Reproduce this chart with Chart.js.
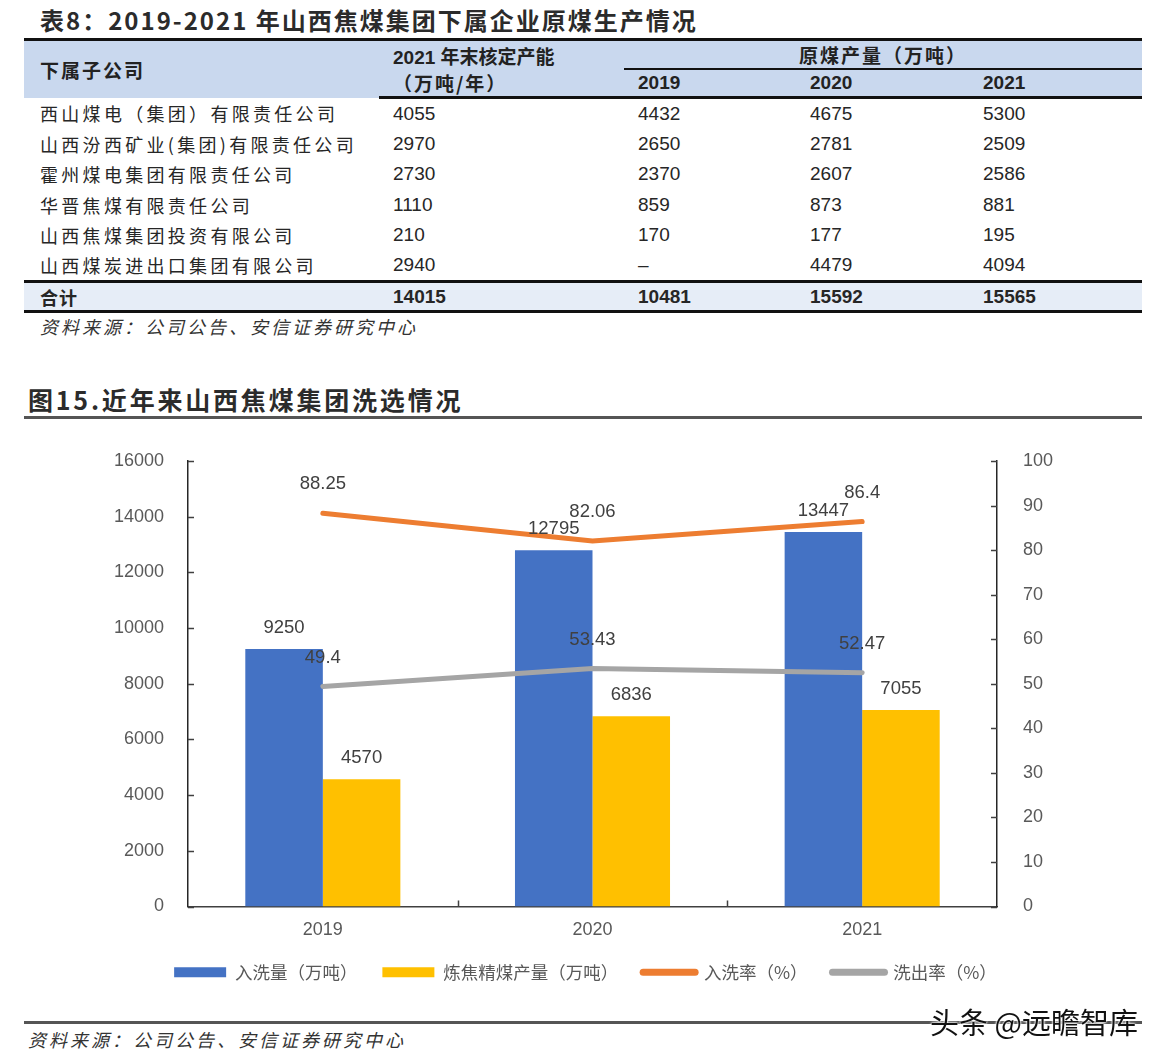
<!DOCTYPE html>
<html>
<head>
<meta charset="utf-8">
<script src="https://cdn.jsdelivr.net/npm/chart.js@4.4.1/dist/chart.umd.min.js"></script>
<style>
  body { margin: 0; background: #fff; width: 1171px; height: 1061px; position: relative; overflow: hidden; font-family: "Noto Sans CJK SC", sans-serif; color: #222; }
  .title { position: absolute; font-weight: bold; color: #2b2b2b; white-space: nowrap; }
  #t1 { left: 40px; top: 2px; font-size: 24px; letter-spacing: 2px; }
  #t2 { left: 28px; top: 381px; font-size: 25px; letter-spacing: 2.8px; }
  table { position: absolute; left: 24px; top: 38px; width: 1118px; border-collapse: collapse; table-layout: fixed; }
  td, th { padding: 0 0 0 14px; text-align: left; white-space: nowrap; font-family: "Liberation Sans", "Noto Sans CJK SC", sans-serif; font-size: 19px; }
  thead th { background: #c9d8ee; font-weight: bold; color: #222; }
  thead tr:first-child th { border-top: 3px solid #111; height: 24px; }
  thead tr:last-child th { border-bottom: 3px solid #111; height: 24px; }
  th.sub { border-top: 2px solid #111; }
  th.cn { font-family: "Noto Sans CJK SC", sans-serif; letter-spacing: 2px; }
  td.name { padding-left: 16px; font-family: "Noto Sans CJK SC", sans-serif; font-size: 18px; letter-spacing: 3.3px; }
  tbody td { height: 30.2px; color: #262626; }
  tr.total td { background: #e6edf7; font-weight: bold; border-top: 3px solid #111; border-bottom: 3px solid #111; height: 27px; }
  .src { position: absolute; font-style: italic; font-size: 18px; letter-spacing: 3px; color: #333; white-space: nowrap; }
  #s1 { left: 40px; top: 313px; }
  #s2 { left: 28px; top: 1026px; }
  .rule { position: absolute; left: 24px; width: 1118px; height: 3px; background: #555; }
  #wrap { position: absolute; left: 0; top: 430px; width: 1171px; height: 580px; }
  #mark { position: absolute; left: 930px; top: 1000px; font-size: 29px; color: #111; white-space: nowrap;
          text-shadow: 0 0 2px #fff, 0 0 2px #fff, 0 0 3px #fff; }
</style>
</head>
<body>
<div class="title" id="t1">表8：2019-2021 年山西焦煤集团下属企业原煤生产情况</div>
<table id="tbl">
  <colgroup><col style="width:355px"><col style="width:245px"><col style="width:172px"><col style="width:173px"><col style="width:173px"></colgroup>
  <thead>
    <tr>
      <th rowspan="2" class="cn" style="padding-left:16px">下属子公司</th>
      <th style="vertical-align:bottom">2021 年末核定产能</th>
      <th colspan="3" class="cn" style="text-align:center;padding-left:0">原煤产量（万吨）</th>
    </tr>
    <tr>
      <th class="cn" style="vertical-align:top">（万吨/年）</th>
      <th class="sub" id="y0"></th><th class="sub" id="y1"></th><th class="sub" id="y2"></th>
    </tr>
  </thead>
  <tbody id="body"></tbody>
</table>
<div class="src" id="s1">资料来源：公司公告、安信证券研究中心</div>

<div class="title" id="t2">图15.近年来山西焦煤集团洗选情况</div>
<div class="rule" style="top:416px"></div>
<div id="wrap"><canvas id="myChart" width="1171" height="580"></canvas></div>
<div class="rule" style="top:1021px"></div>
<div class="src" id="s2">资料来源：公司公告、安信证券研究中心</div>
<div id="mark">头条 @远瞻智库</div>

<script>
// table data
const companies = ['西山煤电（集团）有限责任公司', '山西汾西矿业(集团)有限责任公司', '霍州煤电集团有限责任公司',
  '华晋焦煤有限责任公司', '山西焦煤集团投资有限公司', '山西煤炭进出口集团有限公司'];
const capacity = ['4055', '2970', '2730', '1110', '210', '2940'];
const output2019 = ['4432', '2650', '2370', '859', '170', '–'];
const output2020 = ['4675', '2781', '2607', '873', '177', '4479'];
const output2021 = ['5300', '2509', '2586', '881', '195', '4094'];
const totals = ['合计', '14015', '10481', '15592', '15565'];

// chart data
const years = ['2019', '2020', '2021'];
const washIn = [9250, 12795, 13447];
const cokingCoal = [4570, 6836, 7055];
const washInRate = [88.25, 82.06, 86.4];
const yieldRate = [49.4, 53.43, 52.47];

years.forEach(function(y, i) { document.getElementById('y' + i).textContent = y; });

const body = document.getElementById('body');
companies.forEach(function(name, i) {
  const tr = document.createElement('tr');
  [name, capacity[i], output2019[i], output2020[i], output2021[i]].forEach(function(v, j) {
    const td = document.createElement('td');
    if (j === 0) td.className = 'name';
    td.textContent = v;
    tr.appendChild(td);
  });
  body.appendChild(tr);
});
const totalRow = document.createElement('tr');
totalRow.className = 'total';
totals.forEach(function(v, j) {
  const td = document.createElement('td');
  if (j === 0) { td.className = 'name'; td.style.letterSpacing = '1px'; }
  td.textContent = v;
  totalRow.appendChild(td);
});
body.appendChild(totalRow);

// small inward tick marks on all axes
const tickMarks = {
  id: 'tickMarks',
  afterDraw(chart) {
    const ctx = chart.ctx;
    const y = chart.scales.y, y1 = chart.scales.y1, x = chart.scales.x;
    ctx.save();
    ctx.strokeStyle = '#404040';
    ctx.lineWidth = 1.5;
    ctx.beginPath();
    y.ticks.forEach(function(t, i) {
      const p = Math.round(y.getPixelForTick(i)) + 0.5;
      ctx.moveTo(y.right, p); ctx.lineTo(y.right + 6, p);
    });
    y1.ticks.forEach(function(t, i) {
      const p = Math.round(y1.getPixelForTick(i)) + 0.5;
      ctx.moveTo(y1.left, p); ctx.lineTo(y1.left - 6, p);
    });
    for (let i = 0; i < x.ticks.length - 1; i++) {
      const p = Math.round((x.getPixelForTick(i) + x.getPixelForTick(i + 1)) / 2) + 0.5;
      ctx.moveTo(p, x.top); ctx.lineTo(p, x.top - 6);
    }
    ctx.stroke();
    ctx.restore();
  }
};

// value labels above bars and line points
const valueLabels = {
  id: 'valueLabels',
  afterDatasetsDraw(chart) {
    const ctx = chart.ctx;
    ctx.save();
    ctx.font = '18.5px "Liberation Sans"';
    ctx.fillStyle = '#404040';
    ctx.textAlign = 'center';
    ctx.textBaseline = 'middle';
    chart.data.datasets.forEach(function(ds, i) {
      const meta = chart.getDatasetMeta(i);
      meta.data.forEach(function(el, j) {
        const off = ds.type === 'line' ? 29 : 21;
        ctx.fillText(String(ds.data[j]), el.x, el.y - off);
      });
    });
    ctx.restore();
  }
};

const tickFont = { family: '"Liberation Sans"', size: 18 };
const plain = function(v) { return String(v); };

const ctx = document.getElementById('myChart').getContext('2d');
const myChart = new Chart(ctx, {
  type: 'bar',
  data: {
    labels: years,
    datasets: [
      { label: '入洗量（万吨）', data: washIn, backgroundColor: '#4472C4', yAxisID: 'y', order: 1 },
      { label: '炼焦精煤产量（万吨）', data: cokingCoal, backgroundColor: '#FFC000', yAxisID: 'y', order: 1 },
      { type: 'line', label: '入洗率（%）', data: washInRate, borderColor: '#ED7D31', backgroundColor: '#ED7D31',
        borderWidth: 5, borderCapStyle: 'round', pointRadius: 0, tension: 0, yAxisID: 'y1', order: 0 },
      { type: 'line', label: '洗出率（%）', data: yieldRate, borderColor: '#A5A5A5', backgroundColor: '#A5A5A5',
        borderWidth: 5, borderCapStyle: 'round', pointRadius: 0, tension: 0, yAxisID: 'y1', order: 0 }
    ]
  },
  options: {
    responsive: false,
    animation: false,
    devicePixelRatio: 1,
    layout: { padding: { top: 31, left: 0, right: 0, bottom: 19 } },
    datasets: { bar: { barPercentage: 1, categoryPercentage: 0.575 } },
    scales: {
      x: {
        grid: { display: false },
        border: { display: true, color: '#404040', width: 1.5 },
        ticks: { font: tickFont, color: '#595959', padding: 5 },
        afterFit(scale) { scale.height = 32; }
      },
      y: {
        position: 'left', min: 0, max: 16000,
        grid: { display: false },
        border: { display: true, color: '#262626', width: 1.5 },
        ticks: { stepSize: 2000, font: tickFont, color: '#595959', padding: 16, callback: plain },
        afterFit(scale) { scale.width = 188; }
      },
      y1: {
        position: 'right', min: 0, max: 100,
        grid: { display: false },
        border: { display: true, color: '#262626', width: 1.5 },
        ticks: { stepSize: 10, font: tickFont, color: '#595959', padding: 18, callback: plain },
        afterFit(scale) { scale.width = 174; }
      }
    },
    plugins: {
      tooltip: { enabled: false },
      legend: {
        position: 'bottom',
        labels: {
          usePointStyle: true,
          pointStyleWidth: 52,
          boxHeight: 10,
          padding: 25,
          color: '#595959',
          font: { family: '"Noto Sans CJK SC"', size: 17.5 },
          sort: function(a, b) { return a.datasetIndex - b.datasetIndex; },
          generateLabels(chart) {
            const items = Chart.defaults.plugins.legend.labels.generateLabels(chart);
            items.forEach(function(it) {
              const ds = chart.data.datasets[it.datasetIndex];
              if (ds.type === 'line') {
                it.pointStyle = 'line';
                it.lineWidth = 7;
                it.lineCap = 'round';
                it.strokeStyle = ds.borderColor;
              } else {
                it.pointStyle = 'rect';
                it.lineWidth = 0;
              }
            });
            return items;
          }
        }
      }
    }
  },
  plugins: [tickMarks, valueLabels]
});
</script>
</body>
</html>
